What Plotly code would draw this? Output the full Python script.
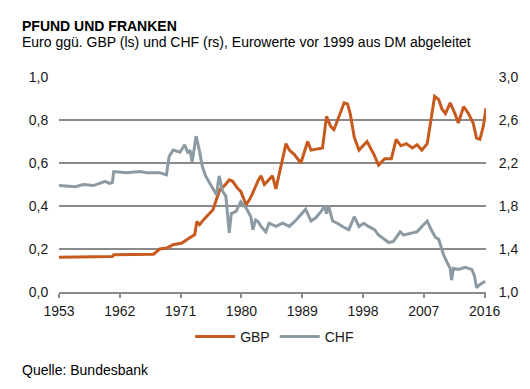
import plotly.graph_objects as go

gbp_years = [1953.0, 1955.0, 1958.0, 1960.9, 1961.1, 1964.0, 1967.0, 1967.9, 1969.0, 1969.9,
             1971.2, 1971.9, 1972.6, 1973.1, 1973.4, 1973.8, 1974.5, 1975.3, 1975.8, 1976.3,
             1976.8, 1977.5, 1978.2, 1978.7, 1979.4, 1979.9, 1980.7, 1981.2, 1981.6, 1982.5,
             1982.9, 1983.4, 1984.0, 1984.6, 1985.1, 1985.8, 1986.6, 1987.1, 1987.8, 1988.8,
             1989.8, 1990.3, 1991.0, 1992.0, 1992.6, 1993.2, 1993.7, 1994.4, 1995.2, 1995.7,
             1996.1, 1996.7, 1997.4, 1998.6, 1999.6, 2000.3, 2001.2, 2002.2, 2002.9, 2003.6,
             2004.4, 2005.3, 2006.0, 2006.7, 2007.5, 2008.0, 2008.6, 2009.2, 2009.7, 2010.2,
             2010.9, 2011.6, 2012.1, 2012.9, 2013.6, 2014.3, 2014.8, 2015.3, 2015.8, 2016.2]
gbp_values = [0.162, 0.163, 0.164, 0.165, 0.173, 0.174, 0.176, 0.200, 0.205, 0.220,
              0.228, 0.243, 0.255, 0.267, 0.328, 0.313, 0.340, 0.367, 0.383, 0.430,
              0.476, 0.495, 0.522, 0.515, 0.484, 0.468, 0.406, 0.430, 0.455, 0.520,
              0.540, 0.500, 0.520, 0.540, 0.480, 0.585, 0.690, 0.660, 0.640, 0.600,
              0.700, 0.660, 0.665, 0.670, 0.817, 0.770, 0.755, 0.810, 0.880, 0.875,
              0.830, 0.720, 0.660, 0.700, 0.640, 0.590, 0.620, 0.620, 0.710, 0.680,
              0.690, 0.670, 0.685, 0.660, 0.690, 0.790, 0.910, 0.895, 0.850, 0.830,
              0.880, 0.830, 0.786, 0.863, 0.830, 0.786, 0.716, 0.710, 0.770, 0.855]

chf_years = [1953.0, 1954.5, 1955.4, 1956.6, 1958.1, 1959.0, 1959.8, 1960.5, 1960.9, 1961.1,
             1963.0, 1965.0, 1966.0, 1967.9, 1968.9, 1969.3, 1969.9, 1970.9, 1971.6, 1972.1,
             1972.4, 1972.7, 1973.3, 1973.8, 1974.2, 1974.7, 1975.3, 1975.8, 1976.3, 1976.7,
             1977.2, 1977.7, 1978.2, 1978.5, 1979.2, 1979.9, 1980.7, 1981.4, 1981.7, 1982.1,
             1982.4, 1982.9, 1983.6, 1984.1, 1985.1, 1986.1, 1987.1, 1988.1, 1988.8, 1989.5,
             1990.3, 1991.0, 1991.8, 1992.3, 1992.6, 1992.9, 1993.5, 1994.2, 1995.2, 1995.9,
             1996.7, 1997.4, 1998.1, 1998.8, 1999.7, 2000.3, 2001.8, 2002.5, 2003.5, 2004.0,
             2005.3, 2006.0, 2006.7, 2007.5, 2008.0, 2008.7, 2009.2, 2009.9, 2010.4, 2010.9,
             2011.1, 2011.4, 2012.1, 2013.1, 2014.1, 2014.5, 2014.8, 2015.3, 2016.1]
chf_values = [1.99, 1.98, 1.98, 2.00, 1.99, 2.01, 2.03, 2.01, 2.02, 2.12,
              2.11, 2.12, 2.11, 2.11, 2.09, 2.26, 2.32, 2.30, 2.37, 2.29,
              2.32, 2.21, 2.45, 2.31, 2.17, 2.08, 2.01, 1.95, 1.905, 2.08,
              1.94, 1.89, 1.55, 1.73, 1.75, 1.84, 1.78, 1.70, 1.58, 1.67,
              1.66, 1.61, 1.56, 1.64, 1.61, 1.64, 1.61, 1.67, 1.72, 1.77,
              1.66, 1.69, 1.75, 1.80, 1.73, 1.80, 1.66, 1.64, 1.60, 1.58,
              1.70, 1.61, 1.64, 1.61, 1.58, 1.53, 1.46, 1.47, 1.56, 1.53,
              1.55, 1.56, 1.61, 1.66, 1.59, 1.51, 1.49, 1.35, 1.28, 1.22,
              1.11, 1.22, 1.21, 1.23, 1.21, 1.15, 1.04, 1.07, 1.10]

x_ticks = [1953, 1962, 1971, 1980, 1989, 1998, 2007, 2016]
left_ticks = [0.0, 0.2, 0.4, 0.6, 0.8, 1.0]
right_ticks = [1.0, 1.4, 1.8, 2.2, 2.6, 3.0]

GBP_COLOR = "#C75B1F"
CHF_COLOR = "#8C9AA4"
GRID = "#8A8A8A"
FONT = "Liberation Sans, Arial, sans-serif"
TXT = "#1a1a1a"

fig = go.Figure()
fig.add_trace(go.Scatter(x=gbp_years, y=gbp_values, name="GBP", mode="lines",
                         line=dict(color=GBP_COLOR, width=3), yaxis="y"))
fig.add_trace(go.Scatter(x=chf_years, y=chf_values, name="CHF", mode="lines",
                         line=dict(color=CHF_COLOR, width=3), yaxis="y2"))

xr = [1953, 2016.2]
# the page body adds an 8px offset, so the figure is 8px smaller and margins shifted
fig.update_layout(
    width=522, height=381,
    margin=dict(l=51, r=42, t=69, b=97),
    paper_bgcolor="white", plot_bgcolor="white",
    separators=",.",
    font=dict(family=FONT, size=14, color=TXT),
    showlegend=True,
    legend=dict(orientation="h", x=0.505, xanchor="center", y=-0.209, yanchor="middle",
                font=dict(size=14, color=TXT), itemwidth=40, tracegroupgap=0),
    xaxis=dict(range=xr, tickvals=x_ticks, showgrid=False, zeroline=False,
               showline=True, linecolor=GRID, linewidth=2,
               ticks="outside", ticklen=4, tickwidth=2, tickcolor=GRID,
               tickfont=dict(size=14, color=TXT), ticklabelstandoff=1),
    xaxis2=dict(range=xr, overlaying="x", anchor="y", side="bottom",
                tickvals=x_ticks, showgrid=False, zeroline=False, showline=False,
                ticks="inside", ticklen=3, tickwidth=2, tickcolor=GRID,
                showticklabels=False),
    yaxis=dict(range=[0, 1], tickvals=left_ticks, tickformat=".1f",
               showgrid=True, gridcolor=GRID, gridwidth=2, zeroline=False,
               showline=False, ticks="outside", ticklen=7, tickcolor="rgba(0,0,0,0)",
               tickfont=dict(size=14, color=TXT)),
    yaxis2=dict(range=[1, 3], tickvals=right_ticks, tickformat=".1f",
                overlaying="y", side="right", showgrid=False, zeroline=False,
                showline=False, ticks="outside", ticklen=9, tickcolor="rgba(0,0,0,0)",
                tickfont=dict(size=14, color=TXT)),
    annotations=[
        dict(text="<b>PFUND UND FRANKEN</b>", xref="paper", yref="paper",
             x=-0.0909, y=1.2386, xanchor="left", yanchor="middle", showarrow=False,
             font=dict(size=14, color="#000000")),
        dict(text="Euro ggü. GBP (ls) und CHF (rs), Eurowerte vor 1999 aus DM abgeleitet",
             xref="paper", yref="paper", x=-0.0909, y=1.165, xanchor="left",
             yanchor="middle", showarrow=False, font=dict(size=14, color="#000000")),
        dict(text="Quelle: Bundesbank", xref="paper", yref="paper",
             x=-0.0909, y=-0.361, xanchor="left", yanchor="middle", showarrow=False,
             font=dict(size=14, color="#000000")),
    ],
)

fig.write_html("out.html")
